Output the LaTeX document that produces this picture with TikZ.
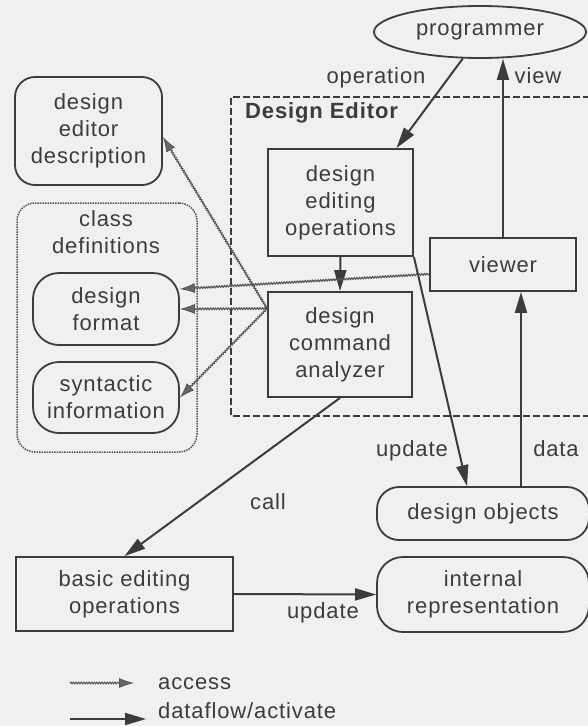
\documentclass[tikz,border=0pt]{standalone}
\usepackage{fontspec}
\setmainfont{Liberation Sans}[LetterSpace=4]
\usetikzlibrary{shapes.geometric,arrows.meta,decorations.pathmorphing}

\definecolor{ink}{RGB}{60,60,60}
\definecolor{paper}{RGB}{240,240,240}
\definecolor{accink}{RGB}{85,85,85}

\tikzset{
  lbl/.style={font=\fontsize{22}{27}\selectfont, text=ink, align=center, inner sep=0pt},
  procbox/.style={lbl, draw=ink, line width=1.8pt, rectangle},
  storebox/.style={lbl, draw=ink, line width=1.8pt, rectangle, rounded corners=#1},
  flow/.style={draw=ink, line width=2pt, -{Triangle[length=21pt,width=12pt]}},
  acc/.style={draw=accink, line width=1.1pt,
    decoration={snake, amplitude=0.8pt, segment length=2.6pt, post length=15pt}, decorate,
    -{Latex[length=15pt,width=10pt,fill=accink!90,color=accink,line width=0.8pt]}},
}

\begin{document}
\begin{tikzpicture}[x=1pt,y=-1pt]
  \useasboundingbox[fill=paper] (0,0) rectangle (588,726);

  % design editor frame (runs off the right edge)
  \draw[ink, line width=1.3pt, dash pattern=on 7pt off 3pt]
    (600,97) -- (231,97) -- (231,416) -- (600,416);
  \node[lbl, anchor=base west, font=\fontsize{22}{27}\selectfont\bfseries] (edtitle) at (245,118) {Design Editor};

  % user
  \node[lbl, draw=ink, line width=1.8pt, ellipse, minimum width=212pt, minimum height=52pt] (prog) at (480,32) {programmer};

  % left column: descriptions and class definitions
  \node[storebox=20pt, minimum width=147pt, minimum height=108pt] (desc) at (88.5,131) {design\\editor\\description};
  \node[lbl, draw=accink, line width=1.5pt, densely dotted, rounded corners=18pt,
        minimum width=180pt, minimum height=249pt] (classdef) at (107,327.5) {};
  \node[lbl] (classlbl) at (106,232) {class\\definitions};
  \node[storebox=26pt, minimum width=146pt, minimum height=72pt] (fmt) at (106,309) {design\\format};
  \node[storebox=26pt, minimum width=146pt, minimum height=71pt] (syn) at (106,397.5) {syntactic\\information};

  % editor internals
  \node[procbox, minimum width=145pt, minimum height=107pt] (edops) at (340.5,202.5) {design\\editing\\operations};
  \node[procbox, minimum width=144pt, minimum height=105pt] (cmd) at (340,344.5) {design\\command\\analyzer};
  \node[procbox, minimum width=146pt, minimum height=53pt] (viewer) at (503,264.5) {viewer};

  % data stores and basic operations
  \node[storebox=22pt, minimum width=212pt, minimum height=53pt] (objs) at (483,513.5) {design objects};
  \node[storebox=26pt, minimum width=212pt, minimum height=75pt] (irep) at (483,594.5) {internal\\representation};
  \node[procbox, minimum width=217pt, minimum height=74pt] (basic) at (124.5,594) {basic editing\\operations};

  % dataflow / activation
  \draw[flow] (prog.237) -- ([xshift=56pt]edops.north);
  \draw[flow] (viewer.north) -- (viewer.north |- prog.south);
  \draw[flow] (edops.south) -- (cmd.north);
  \draw[flow] (edops.south east) -- ([xshift=-16pt]objs.north);
  \draw[flow] ([xshift=38pt]objs.north) -- ([xshift=18pt]viewer.south);
  \draw[flow] (cmd.south) -- (basic.north);
  \draw[flow] (basic.east) -- (irep.west);

  % access relations
  \coordinate (hub) at ([yshift=36pt]cmd.west);
  \draw[acc] (hub) -- ([yshift=-6pt]desc.east);
  \draw[acc] (hub) -- (fmt.east);
  \draw[acc] (hub) -- (syn.east);
  \draw[acc] ([yshift=-9.5pt]viewer.west) -- ([yshift=20pt]fmt.east);

  % connector labels
  \node[lbl, anchor=base] (lop) at (376,83) {operation};
  \node[lbl, anchor=base] (lview) at (538,83) {view};
  \node[lbl, anchor=base] (lupd1) at (412,456) {update};
  \node[lbl, anchor=base] (ldata) at (556,456) {data};
  \node[lbl, anchor=base] (lcall) at (268,509) {call};
  \node[lbl, anchor=base] (lupd2) at (323,618) {update};

  % legend
  \coordinate (ka) at (70,683);
  \coordinate (kb) at (134,683);
  \coordinate (kc) at (70,719);
  \coordinate (kd) at (146,719);
  \draw[acc] (ka) -- (kb);
  \draw[flow] (kc) -- (kd);
  \node[lbl, anchor=base west] (kacc) at (158,689) {access};
  \node[lbl, anchor=base west] (kflow) at (158,718) {dataflow/activate};
\end{tikzpicture}
\end{document}
